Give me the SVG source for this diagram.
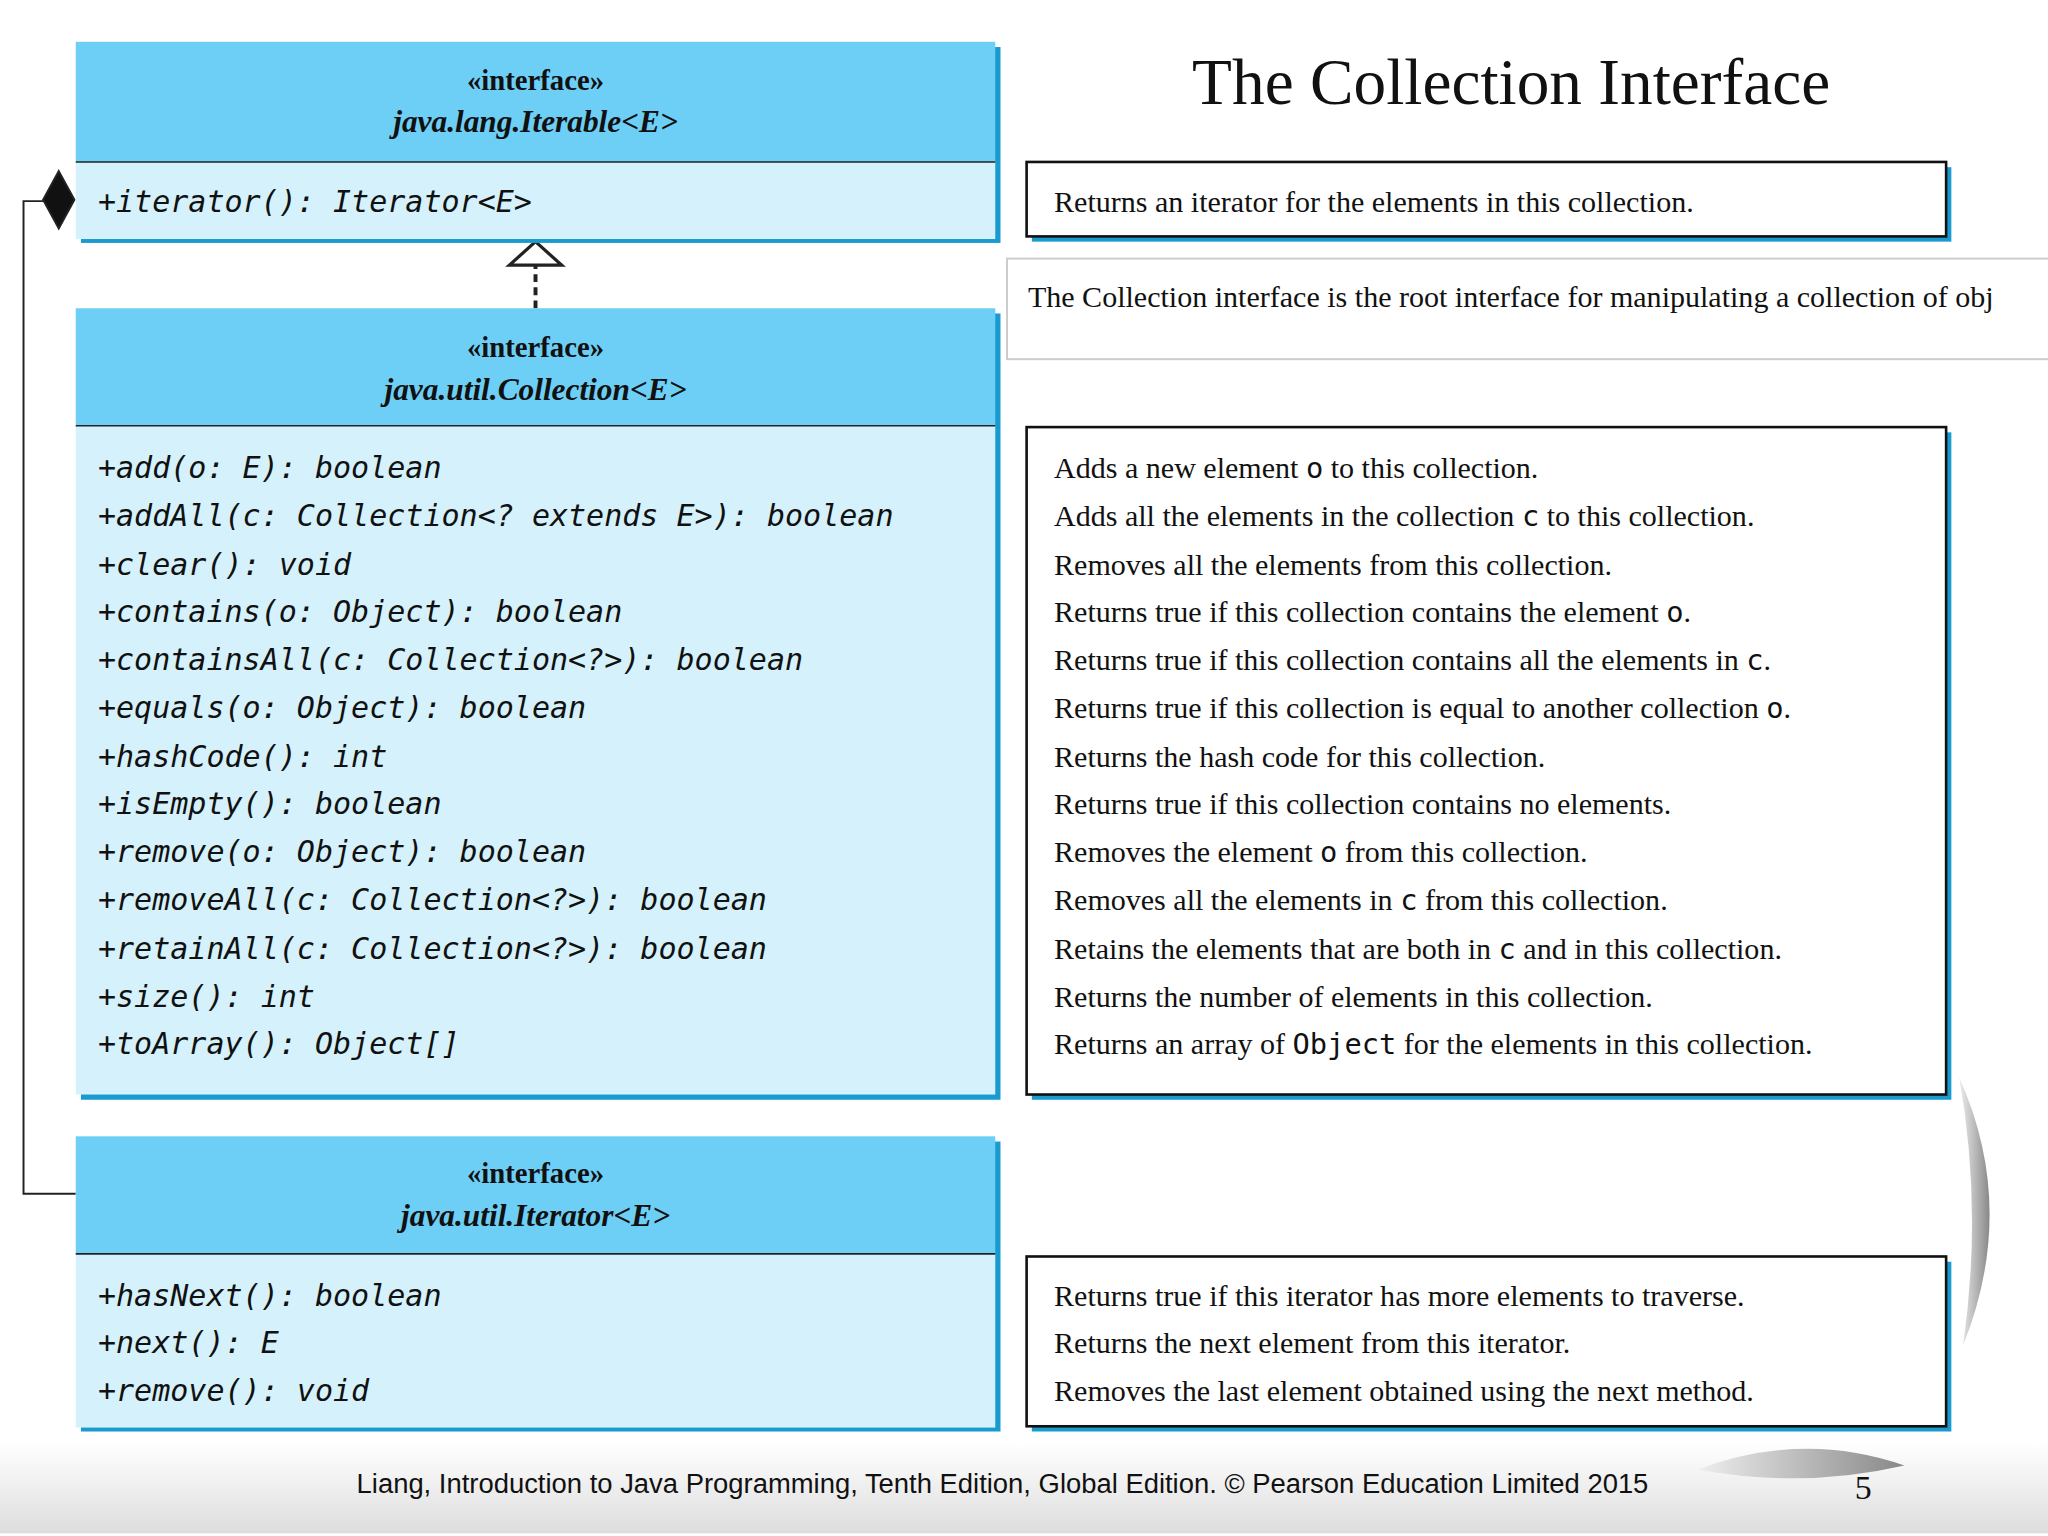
<svg xmlns="http://www.w3.org/2000/svg" width="2048" height="1536" viewBox="0 0 2048 1536">
<defs>
<style>
.hd{fill:#6dcff6}
.bd{fill:#d5f1fc}
.sh{fill:#1a9bd0}
.ln{stroke:#222;stroke-width:1.2}
.st{font-family:"Liberation Serif",serif;font-size:22px;font-weight:bold;text-anchor:middle;fill:#111}
.nm{font-family:"Liberation Serif",serif;font-size:24px;font-weight:bold;font-style:italic;text-anchor:middle;fill:#111}
.m{font-family:"DejaVu Sans Mono",monospace;font-size:23px;font-style:italic;fill:#111}
.d{font-family:"Liberation Serif",serif;font-size:23px;fill:#111}
.dm{font-family:"DejaVu Sans Mono",monospace;font-size:22px}
.db{fill:#fff;stroke:#111;stroke-width:2}
</style>
<linearGradient id="ft" x1="0" y1="0" x2="0" y2="1"><stop offset="0" stop-color="#fff"/><stop offset="1" stop-color="#ddd"/></linearGradient>
<linearGradient id="arc" x1="0" y1="0" x2="1" y2="0"><stop offset="0" stop-color="#eee"/><stop offset="1" stop-color="#888"/></linearGradient>
</defs>
<rect width="2048" height="1536" fill="#fff"/>
<g transform="scale(1.30612)">
<rect x="0" y="1105" width="1568" height="69" fill="url(#ft)"/>
<path d="M1500 825 Q1545 925 1503 1030 Q1518 925 1500 825Z" fill="url(#arc)"/>
<path d="M1300 1125 Q1380 1095 1458 1122 Q1380 1140 1300 1125Z" fill="url(#arc)"/>
<text x="1157" y="80" font-family="Liberation Serif,serif" font-size="50" text-anchor="middle" fill="#111">The Collection Interface</text>

<g id="connectors" fill="none" stroke="#222" stroke-width="1.5">
<polyline points="33,154 18,154 18,914 58,914"/>
<path d="M45 131 L57 153 L45 175 L33 153 Z" fill="#111"/>
<line x1="410" y1="236" x2="410" y2="203" stroke-width="3" stroke-dasharray="6,4"/>
<path d="M390 203 L410 185 L430 203 Z" fill="#fff" stroke-width="2.5"/>
</g>

<g id="iterable">
<rect x="62" y="36" width="704" height="150" class="sh"/>
<rect x="58" y="32" width="704" height="92" class="hd"/>
<rect x="58" y="124" width="704" height="59" class="bd"/>
<line x1="58" y1="124" x2="762" y2="124" class="ln"/>
<text x="410" y="69" class="st">«interface»</text>
<text x="410" y="101" class="nm">java.lang.Iterable&lt;E&gt;</text>
<text x="75" y="162" class="m">+iterator(): Iterator&lt;E&gt;</text>
</g>

<g id="desc-iterable">
<rect x="790" y="128" width="704" height="57" class="sh"/>
<rect x="786" y="124" width="704" height="57" class="db"/>
<text x="807" y="162" class="d">Returns an iterator for the elements in this collection.</text>
</g>

<g id="note">
<rect x="771" y="198" width="800" height="77" fill="#fff" stroke="#ccc" stroke-width="1.5"/>
<text x="787" y="235" class="d" fill="#444">The Collection interface is the root interface for manipulating a collection of obj</text>
</g>

<g id="collection">
<rect x="62" y="240" width="704" height="602" class="sh"/>
<rect x="58" y="236" width="704" height="90" class="hd"/>
<rect x="58" y="326" width="704" height="512" class="bd"/>
<line x1="58" y1="326" x2="762" y2="326" class="ln"/>
<text x="410" y="273" class="st">«interface»</text>
<text x="410" y="306" class="nm">java.util.Collection&lt;E&gt;</text>
<text class="m" x="75">
<tspan x="75" y="366">+add(o: E): boolean</tspan>
<tspan x="75" y="403">+addAll(c: Collection&lt;? extends E&gt;): boolean</tspan>
<tspan x="75" y="440">+clear(): void</tspan>
<tspan x="75" y="476">+contains(o: Object): boolean</tspan>
<tspan x="75" y="513">+containsAll(c: Collection&lt;?&gt;): boolean</tspan>
<tspan x="75" y="550">+equals(o: Object): boolean</tspan>
<tspan x="75" y="587">+hashCode(): int</tspan>
<tspan x="75" y="623">+isEmpty(): boolean</tspan>
<tspan x="75" y="660">+remove(o: Object): boolean</tspan>
<tspan x="75" y="697">+removeAll(c: Collection&lt;?&gt;): boolean</tspan>
<tspan x="75" y="734">+retainAll(c: Collection&lt;?&gt;): boolean</tspan>
<tspan x="75" y="771">+size(): int</tspan>
<tspan x="75" y="807">+toArray(): Object[]</tspan>
</text>
</g>

<g id="desc-collection">
<rect x="790" y="331" width="704" height="511" class="sh"/>
<rect x="786" y="327" width="704" height="511" class="db"/>
<text class="d">
<tspan x="807" y="366">Adds a new element <tspan class="dm">o</tspan> to this collection.</tspan>
<tspan x="807" y="403">Adds all the elements in the collection <tspan class="dm">c</tspan> to this collection.</tspan>
<tspan x="807" y="440">Removes all the elements from this collection.</tspan>
<tspan x="807" y="476">Returns true if this collection contains the element <tspan class="dm">o</tspan>.</tspan>
<tspan x="807" y="513">Returns true if this collection contains all the elements in <tspan class="dm">c</tspan>.</tspan>
<tspan x="807" y="550">Returns true if this collection is equal to another collection <tspan class="dm">o</tspan>.</tspan>
<tspan x="807" y="587">Returns the hash code for this collection.</tspan>
<tspan x="807" y="623">Returns true if this collection contains no elements.</tspan>
<tspan x="807" y="660">Removes the element <tspan class="dm">o</tspan> from this collection.</tspan>
<tspan x="807" y="697">Removes all the elements in <tspan class="dm">c</tspan> from this collection.</tspan>
<tspan x="807" y="734">Retains the elements that are both in <tspan class="dm">c</tspan> and in this collection.</tspan>
<tspan x="807" y="771">Returns the number of elements in this collection.</tspan>
<tspan x="807" y="807">Returns an array of <tspan class="dm">Object</tspan> for the elements in this collection.</tspan>
</text>
</g>

<g id="iterator">
<rect x="62" y="874" width="704" height="222" class="sh"/>
<rect x="58" y="870" width="704" height="90" class="hd"/>
<rect x="58" y="960" width="704" height="133" class="bd"/>
<line x1="58" y1="960" x2="762" y2="960" class="ln"/>
<text x="410" y="906" class="st">«interface»</text>
<text x="410" y="939" class="nm">java.util.Iterator&lt;E&gt;</text>
<text class="m">
<tspan x="75" y="1000">+hasNext(): boolean</tspan>
<tspan x="75" y="1036">+next(): E</tspan>
<tspan x="75" y="1073">+remove(): void</tspan>
</text>
</g>

<g id="desc-iterator">
<rect x="790" y="966" width="704" height="130" class="sh"/>
<rect x="786" y="962" width="704" height="130" class="db"/>
<text class="d">
<tspan x="807" y="1000">Returns true if this iterator has more elements to traverse.</tspan>
<tspan x="807" y="1036">Returns the next element from this iterator.</tspan>
<tspan x="807" y="1073">Removes the last element obtained using the next method.</tspan>
</text>
</g>

<text x="273" y="1143" font-family="Liberation Sans,sans-serif" font-size="21" fill="#111">Liang, Introduction to Java Programming, Tenth Edition, Global Edition. © Pearson Education Limited 2015</text>
<text x="1420" y="1148" font-family="Liberation Serif,serif" font-size="26" fill="#111">5</text>
</g>
</svg>
